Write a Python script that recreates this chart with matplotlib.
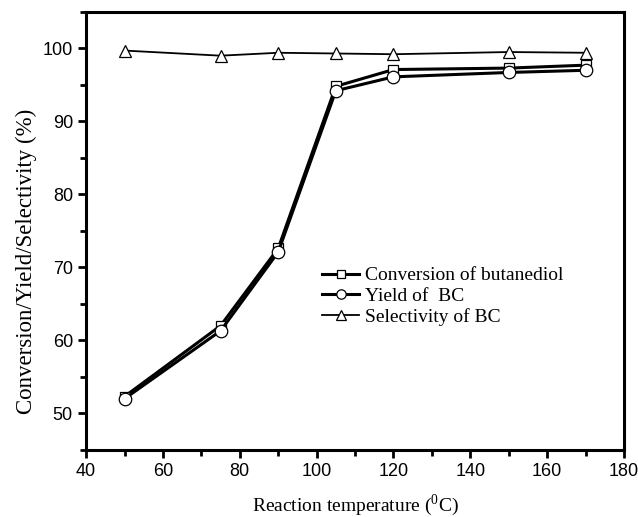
import matplotlib
matplotlib.use("Agg")
import matplotlib.pyplot as plt
from matplotlib.ticker import MultipleLocator

# data
temperature = [50, 75, 90, 105, 120, 150, 170]
conversion = [52.3, 62.0, 72.6, 94.8, 97.1, 97.3, 97.7]
yield_bc = [52.0, 61.3, 72.1, 94.2, 96.1, 96.7, 97.0]
selectivity = [99.7, 99.0, 99.4, 99.3, 99.2, 99.5, 99.4]

plt.rcParams['mathtext.fontset'] = 'custom'
plt.rcParams['mathtext.rm'] = 'Liberation Serif'

fig = plt.figure(figsize=(6.38, 5.17), dpi=100)
ax = fig.add_axes([0.135, 0.13, 0.843, 0.847])

ax.plot(temperature, conversion, color='k', lw=2.2, marker='s', ms=7,
        mfc='white', mec='k', mew=0.9, label='Conversion of butanediol')
ax.plot(temperature, yield_bc, color='k', lw=2.2, marker='o', ms=9,
        mfc='white', mec='k', mew=0.9, label='Yield of  BC')
ax.plot(temperature, selectivity, color='k', lw=1.3, marker='^', ms=9,
        mfc='white', mec='k', mew=0.9, label='Selectivity of BC')

ax.set_xlim(40, 180)
ax.set_ylim(45, 105)
ax.xaxis.set_major_locator(MultipleLocator(20))
ax.xaxis.set_minor_locator(MultipleLocator(10))
ax.yaxis.set_minor_locator(MultipleLocator(5))
ax.set_yticks([50, 60, 70, 80, 90, 100])

for s in ax.spines.values():
    s.set_linewidth(2.2)
ax.tick_params(which='major', direction='out', length=6, width=2,
               labelsize=13, top=False, right=False)
ax.tick_params(which='minor', direction='out', length=4, width=2,
               top=False, right=False)
for lab in ax.get_xticklabels() + ax.get_yticklabels():
    lab.set_fontfamily('Liberation Sans')

ax.set_xlabel(r'Reaction temperature ($^{\rm 0}$C)', family='Liberation Serif',
              fontsize=14, labelpad=9)
ax.set_ylabel('Conversion/Yield/Selectivity (%)', family='Liberation Serif',
              fontsize=16.5)
ax.yaxis.set_label_coords(-0.092, 0.43)

leg = ax.legend(loc='upper left', bbox_to_anchor=(0.439, 0.418), frameon=False,
                prop={'family': 'Liberation Serif', 'size': 14},
                handlelength=1.9, handletextpad=0.3, labelspacing=0.15,
                borderpad=0, borderaxespad=0, markerscale=0.75)

fig.savefig('out.png', dpi=100)
